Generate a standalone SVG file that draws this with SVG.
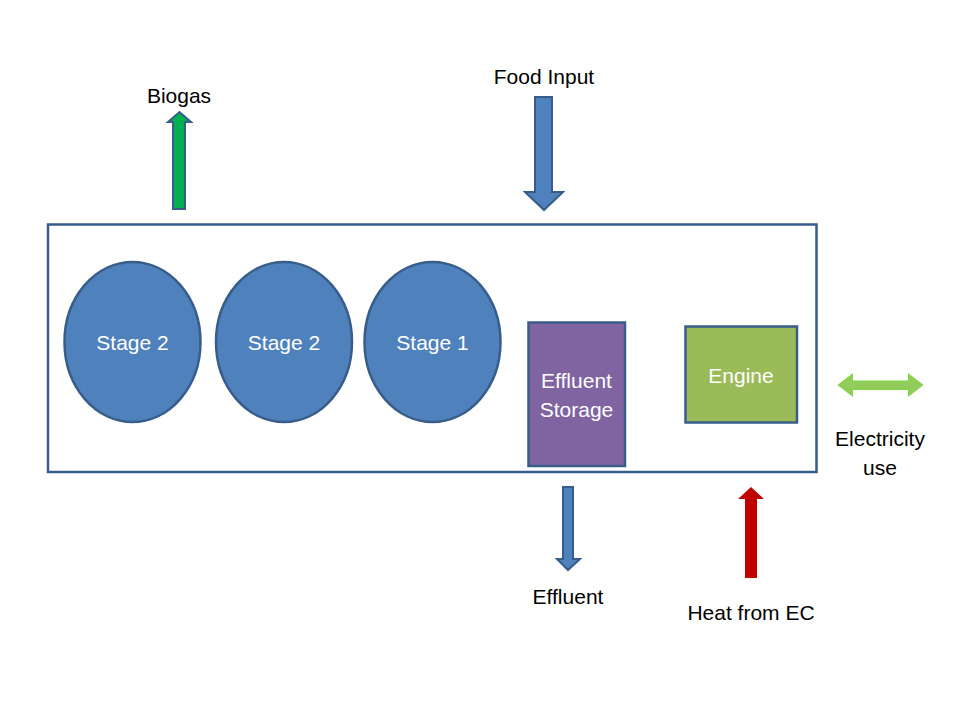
<svg xmlns="http://www.w3.org/2000/svg" width="960" height="720" viewBox="0 0 960 720">
<style>
.lbl{font-family:"Liberation Sans",Arial,sans-serif;font-size:21px;fill:#000;text-anchor:middle}
.in{font-family:"Liberation Sans",Arial,sans-serif;font-size:21px;fill:#fff;text-anchor:middle}
.stage{fill:#4F81BD;stroke:#385D8A;stroke-width:2.5}
.blue{fill:#4F81BD;stroke:#385D8A;stroke-width:2;stroke-linejoin:miter}
</style>
<rect width="960" height="720" fill="#fff"/>
<g id="container"><rect x="48" y="224.5" width="768.5" height="247.5" fill="none" stroke="#385D8A" stroke-width="2.5"/></g>
<g id="stage2a"><ellipse class="stage" cx="132.5" cy="342" rx="68" ry="80"/><text class="in" x="132.5" y="350">Stage 2</text></g>
<g id="stage2b"><ellipse class="stage" cx="284" cy="342" rx="68" ry="80"/><text class="in" x="284" y="350">Stage 2</text></g>
<g id="stage1"><ellipse class="stage" cx="432.5" cy="342" rx="68" ry="80"/><text class="in" x="432.5" y="350">Stage 1</text></g>
<g id="effluent-storage"><rect x="528.5" y="322.5" width="96.5" height="143.5" fill="#8064A2" stroke="#385D8A" stroke-width="2.5"/><text class="in" x="576.5" y="388">Effluent</text><text class="in" x="576.5" y="417">Storage</text></g>
<g id="engine"><rect x="685.5" y="326.5" width="111.5" height="96" fill="#9BBB59" stroke="#385D8A" stroke-width="2.5"/><text class="in" x="741" y="383">Engine</text></g>
<g id="connectors">
<polygon points="173,209 173,122 168,122 179.5,112 191,122 185,122 185,209" fill="#00B050" stroke="#385D8A" stroke-width="2"/>
<polygon class="blue" points="535,97 552,97 552,192 563,192 544,210 525,192 535,192"/>
<polygon class="blue" points="563,487 573,487 573,559 580,559 568,570 557,559 563,559"/>
<polygon points="745,578 745,499 738,499 751,487 764,499 757,499 757,578" fill="#C00000"/>
<polygon points="839,385 852,375 852,381.5 909,381.5 909,375 922,385 909,395 909,389 852,389 852,395" fill="#92CC5E" stroke="#8AD24E" stroke-width="2"/>
</g>
<g id="labels">
<text class="lbl" x="179" y="103">Biogas</text>
<text class="lbl" x="544" y="84">Food Input</text>
<text class="lbl" x="880" y="446">Electricity</text>
<text class="lbl" x="880" y="475">use</text>
<text class="lbl" x="568" y="604">Effluent</text>
<text class="lbl" x="751" y="620">Heat from EC</text>
</g>
</svg>
